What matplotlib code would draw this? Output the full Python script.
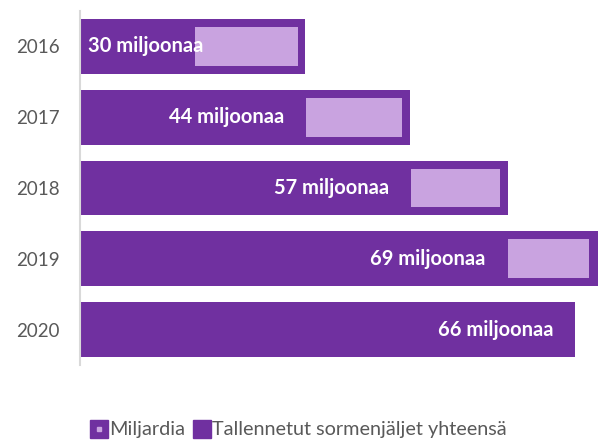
import matplotlib
matplotlib.use('Agg')
import matplotlib.pyplot as plt
from matplotlib.lines import Line2D

years = ['2016', '2017', '2018', '2019', '2020']
total = [30, 44, 57, 69, 66]          # Tallennetut sormenjäljet yhteensä (miljoonaa)
mrd_start = [15.3, 30.1, 44.1, 57.0, None]   # Miljardia, light segments
mrd_end = [29.0, 42.9, 56.0, 67.9, None]
labels = ['30 miljoonaa', '44 miljoonaa', '57 miljoonaa', '69 miljoonaa', '66 miljoonaa']

dark = '#7030A0'
light = '#C9A3E0'

plt.rcParams['font.family'] = ['Lato', 'DejaVu Sans']

fig = plt.figure(figsize=(5.98, 4.41), dpi=100)
ax = fig.add_axes([80 / 598, 76 / 441, 518 / 598, 354 / 441])

y = list(range(len(years)))
ax.barh(y, total, height=0.775, color=dark, zorder=2)
for i in y:
    if mrd_start[i] is not None:
        ax.barh(i, mrd_end[i] - mrd_start[i], left=mrd_start[i], height=0.55, color=light, zorder=3)

ax.set_xlim(0, 518 / 7.5)
ax.set_ylim(len(years) - 0.5, -0.5)
ax.set_yticks(y)
ax.set_yticklabels(years, fontsize=13.5, color='#595959')
ax.set_xticks([])
ax.tick_params(axis='y', length=0, pad=14.4)
for s in ['top', 'right', 'bottom']:
    ax.spines[s].set_visible(False)
ax.spines['left'].set_color('#D9D9D9')
ax.spines['left'].set_linewidth(1.5)
ax.spines['left'].set_zorder(5)

fig.canvas.draw()
r = fig.canvas.get_renderer()
for i in y:
    anchor = mrd_start[i] if mrd_start[i] is not None else total[i]
    t = ax.text(anchor - 2.9, i, labels[i], ha='right', va='center', color='white',
                fontsize=14.5, fontweight='bold', zorder=4)
    bb = t.get_window_extent(r)
    if bb.x0 < ax.get_window_extent(r).x0:
        t.set_x(1.1)
        t.set_ha('left')

h1 = (Line2D([], [], marker='s', linestyle='none', markersize=12.5, color=dark),
      Line2D([], [], marker='s', linestyle='none', markersize=3, color=light))
h2 = Line2D([], [], marker='s', linestyle='none', markersize=12.5, color=dark)
fig.legend([h1, h2], ['Miljardia', 'Tallennetut sormenjäljet yhteensä'],
           loc='center', bbox_to_anchor=(0.5, 1 - 430 / 441), ncol=2, frameon=False,
           fontsize=14.3, labelcolor='#595959', handlelength=0.7, handletextpad=0.15,
           columnspacing=0.5)

fig.savefig('out.png', dpi=100)
